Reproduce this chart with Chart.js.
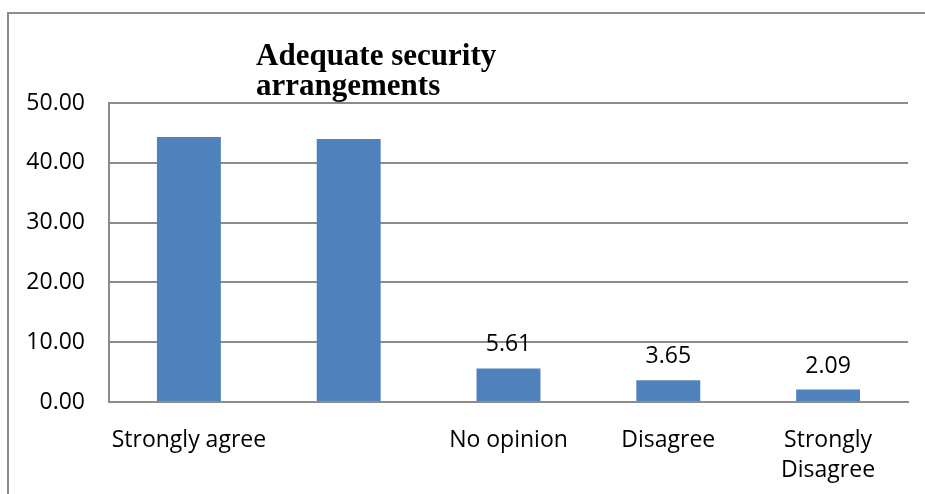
<!DOCTYPE html>
<html>
<head>
<meta charset="utf-8">
<style>
  html, body { margin: 0; padding: 0; background: #fff; overflow: hidden; }
  #frame { position: absolute; left: 7px; top: 12px; width: 940px; height: 510px; border: 2px solid #8c8c8c; box-sizing: border-box; }
  #expenseChart { position: absolute; left: 0; top: 0; }
</style>
</head>
<body>
<div id="frame"></div>
<canvas id="expenseChart" width="925" height="494"></canvas>
<script src="https://cdn.jsdelivr.net/npm/chart.js@4/dist/chart.umd.min.js"></script>
<script>
// Adequate security arrangements - survey responses (%)
const categories = ['Strongly agree', '', 'No opinion', 'Disagree', ['Strongly', 'Disagree']];
const values = [44.3, 44.0, 5.61, 3.65, 2.09];
const showLabel = [false, false, true, true, true];
const titleLines = ['Adequate security', 'arrangements'];
const yTicks = { min: 0, max: 50, step: 10 };

const gridColor = '#8c8c8c';
const font = { family: 'Open Sans', size: 23 };

// value labels above the small bars
const barLabels = {
    id: 'barLabels',
    afterDatasetsDraw(chart) {
        const ctx = chart.ctx;
        const meta = chart.getDatasetMeta(0);
        ctx.save();
        ctx.font = '23px "Open Sans"';
        ctx.fillStyle = '#000';
        ctx.textAlign = 'center';
        ctx.textBaseline = 'alphabetic';
        meta.data.forEach((bar, i) => {
            if (!showLabel[i]) return;
            ctx.fillText(values[i].toFixed(2), bar.x, bar.y - 17);
        });
        ctx.restore();
    }
};

// title sits over the top left of the plot, like the original
const overlayTitle = {
    id: 'overlayTitle',
    afterDraw(chart) {
        const ctx = chart.ctx;
        ctx.save();
        ctx.font = 'bold 31px "Liberation Serif"';
        ctx.fillStyle = '#000';
        ctx.textAlign = 'left';
        ctx.textBaseline = 'alphabetic';
        titleLines.forEach((line, i) => ctx.fillText(line, 256, 65 + i * 30));
        ctx.restore();
    }
};

const ctx = document.getElementById('expenseChart').getContext('2d');
new Chart(ctx, {
    type: 'bar',
    data: {
        labels: categories,
        datasets: [{
            data: values,
            backgroundColor: '#4f81bd',
            barPercentage: 0.4,
            categoryPercentage: 1.0
        }]
    },
    options: {
        responsive: false,
        animation: false,
        layout: { padding: { top: 103, right: 17, left: 0, bottom: 0 } },
        plugins: {
            legend: { display: false },
            tooltip: { enabled: false }
        },
        scales: {
            x: {
                grid: { display: false, drawTicks: false },
                border: { display: true, color: gridColor, width: 2 },
                ticks: { color: '#000', font: { family: 'Open Sans', size: 23, lineHeight: 1.3 }, padding: 24, maxRotation: 0, autoSkip: false },
                afterFit(scale) { scale.height = 92; }
            },
            y: {
                min: yTicks.min,
                max: yTicks.max,
                grid: { color: gridColor, lineWidth: 2, drawTicks: false },
                border: { display: true, color: gridColor, width: 2 },
                ticks: {
                    stepSize: yTicks.step,
                    color: '#000',
                    font: font,
                    padding: 24,
                    callback: v => v.toFixed(2)
                },
                afterFit(scale) { scale.width = 109; }
            }
        }
    },
    plugins: [barLabels, overlayTitle]
});
</script>
</body>
</html>
